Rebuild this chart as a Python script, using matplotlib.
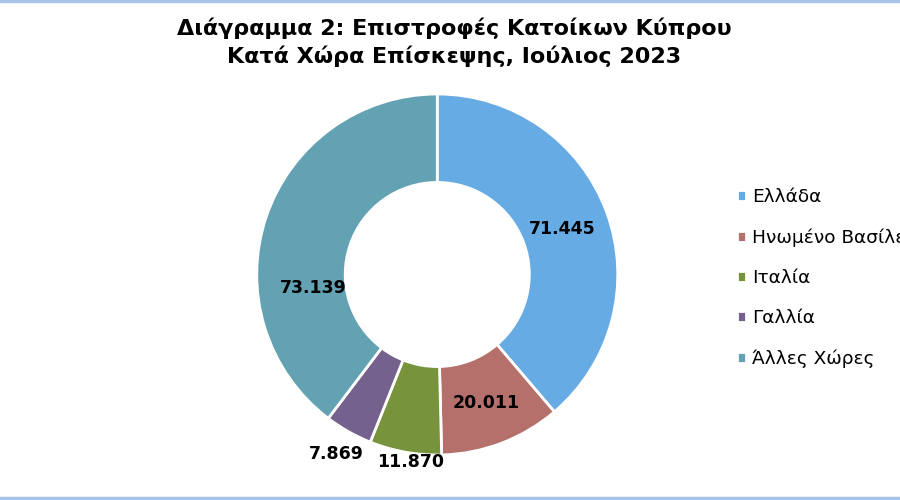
import matplotlib.pyplot as plt
from matplotlib.lines import Line2D
import numpy as np

# Data
countries = ["Ελλάδα", "Ηνωμένο Βασίλειο", "Ιταλία", "Γαλλία", "Άλλες Χώρες"]
returns = [71445, 20011, 11870, 7869, 73139]
colors = ["#67ABE4", "#B5706C", "#77933C", "#74618E", "#62A2B3"]

# Label placement (radius, angle in deg) mimicking Excel's best-fit placement
label_pos = [(0.735, 20.2), (0.763, -69.3), (1.05, -98.0), (1.14, -119.5), (0.69, 186.0)]

plt.rcParams['font.family'] = ['DejaVu Sans']

fig = plt.figure(figsize=(9, 5), dpi=100)
ax = fig.add_axes([0.2853, 0.09, 0.4011, 0.722])

wedges, _ = ax.pie(returns, colors=colors, startangle=90, counterclock=False,
                   radius=1.0, wedgeprops=dict(width=0.49, edgecolor="white", linewidth=2))
ax.set_xlim(-1, 1)
ax.set_ylim(-1, 1)
ax.set_aspect("equal")

for val, (r, ang) in zip(returns, label_pos):
    a = np.deg2rad(ang)
    txt = f"{val:,}".replace(",", ".")
    ax.text(r * np.cos(a), r * np.sin(a), txt, ha="center", va="center",
            fontsize=12.5, fontweight="bold", color="black")

fig.text(0.505, 0.916, "Διάγραμμα 2: Επιστροφές Κατοίκων Κύπρου\nΚατά Χώρα Επίσκεψης, Ιούλιος 2023",
         ha="center", va="center", fontsize=16, fontweight="bold", linespacing=1.35)

leg = fig.legend(wedges, countries, loc="center left", bbox_to_anchor=(0.804, 0.444),
                 frameon=False, fontsize=13.3, handlelength=0.5, handleheight=0.5,
                 handletextpad=0.35, labelspacing=1.2, borderpad=0.2)

# thin light-blue frame lines at top and bottom
fig.add_artist(Line2D([0, 1], [0.998, 0.998], color="#A7C3EA", linewidth=2.5))
fig.add_artist(Line2D([0, 1], [0.005, 0.005], color="#A7C3EA", linewidth=2.5))

fig.savefig("out.png", dpi=100)
